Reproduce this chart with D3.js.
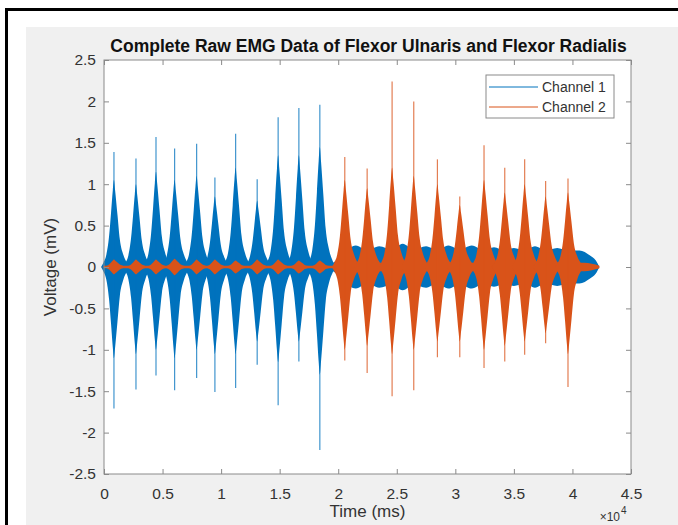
<!DOCTYPE html>
<html>
<head>
<meta charset="utf-8">
<script src="https://cdn.jsdelivr.net/npm/d3@7"></script>
<style>
body { margin: 0; background: #fff; }
text { font-family: "Liberation Sans", Arial, sans-serif; fill: #333; }
</style>
</head>
<body>
<div id="chart"></div>
<script>
// burst centres (ms), spike peaks and dense-core extents (mV)
var ch1Time = [850, 2730, 4440, 6030, 7910, 9470, 11240, 13080, 14870, 16640, 18430];
var ch1Max = [1.39, 1.31, 1.57, 1.43, 1.49, 1.08, 1.61, 1.06, 1.81, 1.92, 1.96];
var ch1Min = [-1.71, -1.48, -1.31, -1.49, -1.34, -1.51, -1.46, -1.18, -1.67, -1.14, -2.21];
var ch1CoreMax = [1.05, 1.0, 1.15, 1.05, 1.1, 0.85, 1.2, 0.8, 1.35, 1.35, 1.45];
var ch1CoreMin = [-1.1, -1.05, -1.0, -1.1, -1.0, -1.05, -1.05, -0.9, -1.15, -0.9, -1.3];

var ch2Time = [20560, 22470, 24600, 26450, 28470, 30380, 32450, 34220, 35920, 37710, 39620];
var ch2Max = [1.33, 1.19, 2.24, 2.0, 1.30, 0.85, 1.47, 1.20, 1.30, 1.04, 1.07];
var ch2Min = [-1.13, -1.28, -1.56, -1.49, -1.09, -1.09, -1.22, -1.14, -1.06, -0.92, -1.45];
var ch2CoreMax = [1.05, 0.95, 1.2, 1.1, 1.0, 0.75, 1.05, 0.9, 1.0, 0.85, 0.9];
var ch2CoreMin = [-1.0, -0.95, -1.05, -1.0, -0.9, -0.9, -1.0, -0.95, -0.9, -0.8, -1.05];
// small channel 2 blobs that show up under each channel 1 burst
var ch2BlobAmp = [0.09, 0.09, 0.09, 0.1, 0.09, 0.09, 0.08, 0.09, 0.09, 0.08, 0.08];

// shape of one burst: offset from centre (ms) and share of the core height
var burstOffset = [-1100, -900, -650, -420, -250, -100, 0, 100, 300, 500, 800, 1100, 1300];
var burstShape = [0, 0.05, 0.14, 0.35, 0.62, 0.88, 1, 0.88, 0.6, 0.32, 0.14, 0.05, 0];

// background noise band (half-width, mV) along the record
var ch1BaseTime = [0, 300, 19500, 20300, 21500, 22470, 23500, 24600, 25500, 26450, 27500, 28470, 29400, 30380, 31400, 32450, 33300, 34220, 35000, 35920, 36800, 37710, 38700, 39620, 40600, 41500, 42000, 42300];
var ch1BaseAmp = [0.03, 0.05, 0.05, 0.15, 0.26, 0.2, 0.25, 0.21, 0.28, 0.21, 0.25, 0.2, 0.26, 0.21, 0.26, 0.2, 0.24, 0.2, 0.23, 0.2, 0.25, 0.2, 0.23, 0.2, 0.2, 0.14, 0.08, 0.0];
var ch2BaseTime = [0, 19500, 20200, 41000, 42300];
var ch2BaseAmp = [0.015, 0.015, 0.05, 0.05, 0.015];

var xTicks = [0, 5000, 10000, 15000, 20000, 25000, 30000, 35000, 40000, 45000];
var yTicks = [-2.5, -2, -1.5, -1, -0.5, 0, 0.5, 1, 1.5, 2, 2.5];
var seriesNames = ['Channel 1', 'Channel 2'];
var seriesColors = ['#0072bd', '#d95319'];

var width = 678, height = 525;
var plot = {left: 104, top: 60, right: 631, bottom: 474};

var svg = d3.select('#chart').append('svg')
  .attr('width', width)
  .attr('height', height);

// screenshot frame
svg.append('rect').attr('x', 5).attr('y', 8).attr('width', width - 5).attr('height', 3).attr('fill', '#000');
svg.append('rect').attr('x', 5).attr('y', 8).attr('width', 3).attr('height', height - 8).attr('fill', '#000');
svg.append('rect').attr('x', 26).attr('y', 27).attr('width', width - 26).attr('height', height - 27).attr('fill', '#f0f0f0');

svg.append('rect')
  .attr('x', plot.left).attr('y', plot.top)
  .attr('width', plot.right - plot.left).attr('height', plot.bottom - plot.top)
  .attr('fill', '#fff');

var x = d3.scaleLinear().domain([0, 45000]).range([plot.left, plot.right]);
var y = d3.scaleLinear().domain([-2.5, 2.5]).range([plot.bottom, plot.top]);

var band = d3.area()
  .x(function(d) { return x(d.t); })
  .y0(function(d) { return y(d.lo); })
  .y1(function(d) { return y(d.hi); })
  .curve(d3.curveMonotoneX);

var data = svg.append('g');

function drawBand(g, times, amps, color) {
  var pts = times.map(function(t, i) { return {t: t, hi: amps[i], lo: -amps[i]}; });
  g.append('path').attr('d', band(pts)).attr('fill', color);
}

function drawBursts(g, times, maxs, mins, coreMax, coreMin, color, spikes) {
  times.forEach(function(t, i) {
    var pts = burstOffset.map(function(o, j) {
      return {t: t + o, hi: coreMax[i] * burstShape[j], lo: coreMin[i] * burstShape[j]};
    });
    g.append('path').attr('d', band(pts)).attr('fill', color);
    if (spikes) {
      g.append('line')
        .attr('x1', x(t)).attr('x2', x(t))
        .attr('y1', y(maxs[i])).attr('y2', y(mins[i]))
        .attr('stroke', color).attr('stroke-width', 1.2).attr('stroke-opacity', 0.75);
    }
  });
}

// channel 1 first, channel 2 drawn over it
drawBand(data, ch1BaseTime, ch1BaseAmp, seriesColors[0]);
drawBursts(data, ch1Time, ch1Max, ch1Min, ch1CoreMax, ch1CoreMin, seriesColors[0], true);

drawBand(data, ch2BaseTime, ch2BaseAmp, seriesColors[1]);
drawBursts(data, ch1Time, null, null, ch2BlobAmp, ch2BlobAmp.map(function(a) { return -a; }), seriesColors[1], false);
drawBursts(data, ch2Time, ch2Max, ch2Min, ch2CoreMax, ch2CoreMin, seriesColors[1], true);

// axes, ticks point inwards on all four sides
var axisColor = '#8a8a8a';

var xAxis = svg.append('g')
  .attr('transform', 'translate(0,' + plot.bottom + ')')
  .call(d3.axisBottom(x).tickValues(xTicks).tickSizeInner(-5).tickSizeOuter(0).tickPadding(14)
    .tickFormat(function(d) { return String(d / 10000); }));

var xAxisTop = svg.append('g')
  .attr('transform', 'translate(0,' + plot.top + ')')
  .call(d3.axisTop(x).tickValues(xTicks).tickSizeInner(-5).tickSizeOuter(0).tickFormat(''));

var yAxis = svg.append('g')
  .attr('transform', 'translate(' + plot.left + ',0)')
  .call(d3.axisLeft(y).tickValues(yTicks).tickSizeInner(-5).tickSizeOuter(0).tickPadding(8)
    .tickFormat(function(d) { return String(d); }));

var yAxisRight = svg.append('g')
  .attr('transform', 'translate(' + plot.right + ',0)')
  .call(d3.axisRight(y).tickValues(yTicks).tickSizeInner(-5).tickSizeOuter(0).tickFormat(''));

[xAxis, xAxisTop, yAxis, yAxisRight].forEach(function(a) {
  a.select('.domain').remove();
  a.selectAll('.tick line').attr('stroke', axisColor);
  a.selectAll('.tick text').attr('font-size', 15.5).attr('font-family', null).attr('fill', '#333');
});

svg.append('rect')
  .attr('x', plot.left).attr('y', plot.top)
  .attr('width', plot.right - plot.left).attr('height', plot.bottom - plot.top)
  .attr('fill', 'none').attr('stroke', axisColor).attr('stroke-width', 1);

// labels
svg.append('text')
  .attr('x', (plot.left + plot.right) / 2 + 1).attr('y', 52)
  .attr('text-anchor', 'middle').attr('font-size', 17.5).attr('font-weight', 'bold')
  .style('fill', '#111')
  .text('Complete Raw EMG Data of Flexor Ulnaris and Flexor Radialis');

svg.append('text')
  .attr('x', (plot.left + plot.right) / 2).attr('y', 517)
  .attr('text-anchor', 'middle').attr('font-size', 17)
  .text('Time (ms)');

svg.append('text')
  .attr('transform', 'translate(56,' + (plot.top + plot.bottom) / 2 + ') rotate(-90)')
  .attr('text-anchor', 'middle').attr('font-size', 17)
  .text('Voltage (mV)');

svg.append('text')
  .attr('x', 620).attr('y', 521)
  .attr('text-anchor', 'end').attr('font-size', 12)
  .text('\u00d710');
svg.append('text')
  .attr('x', 621).attr('y', 514)
  .attr('font-size', 10)
  .text('4');

// legend
var legend = svg.append('g').attr('transform', 'translate(486,75)');
legend.append('rect')
  .attr('width', 128).attr('height', 43)
  .attr('fill', '#fff').attr('stroke', axisColor).attr('stroke-width', 1);

seriesNames.forEach(function(name, i) {
  var ly = 12 + i * 20;
  legend.append('line')
    .attr('x1', 3).attr('x2', 52).attr('y1', ly).attr('y2', ly)
    .attr('stroke', seriesColors[i]).attr('stroke-width', 1);
  legend.append('text')
    .attr('x', 56).attr('y', ly).attr('dy', '0.35em')
    .attr('font-size', 14)
    .text(name);
});
</script>
</body>
</html>
